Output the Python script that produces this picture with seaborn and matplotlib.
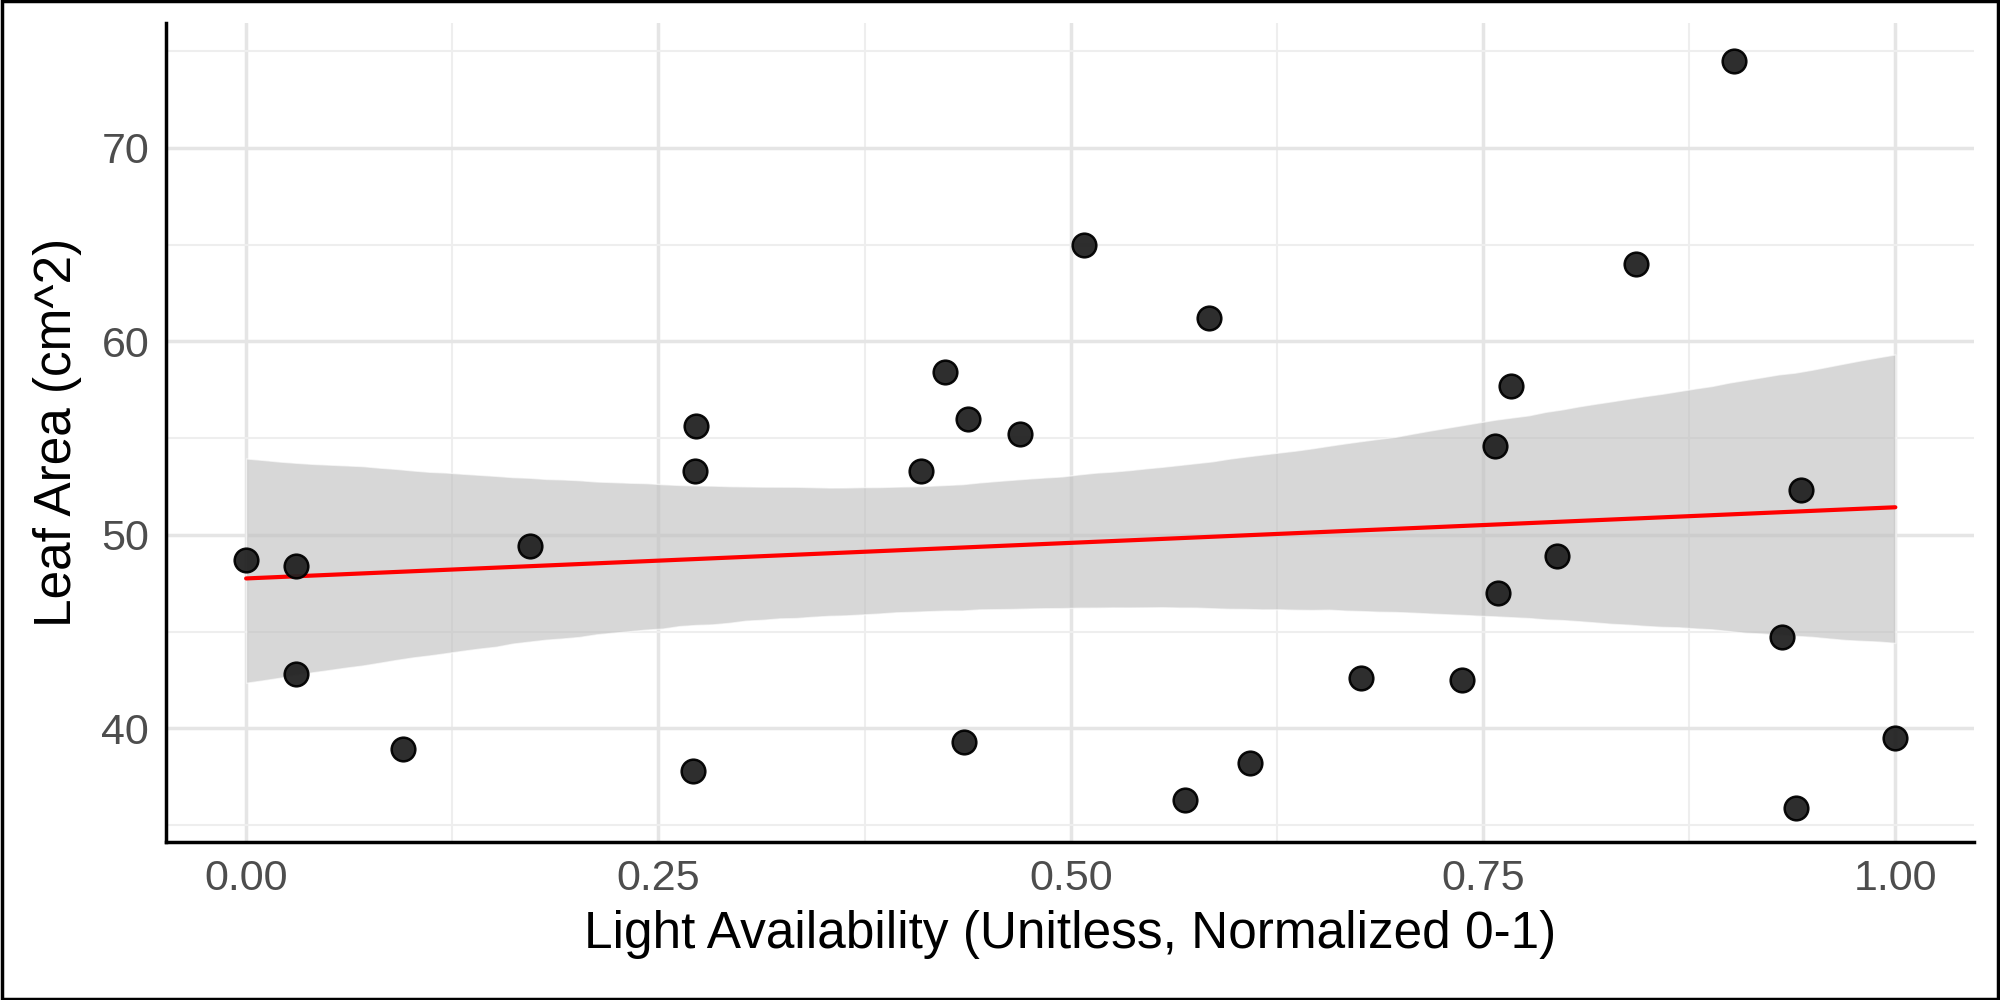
import matplotlib
matplotlib.use("Agg")
import matplotlib.pyplot as plt
import numpy as np
import pandas as pd
import seaborn as sns

light = [0.000, 0.030, 0.030, 0.095, 0.172, 0.271, 0.272, 0.273, 0.409, 0.424,
         0.435, 0.438, 0.469, 0.508, 0.569, 0.584, 0.609, 0.676, 0.737, 0.757,
         0.759, 0.767, 0.795, 0.843, 0.902, 0.931, 0.943, 0.940, 1.000]
leaf = [48.7, 48.4, 42.8, 38.95, 49.4, 37.8, 53.3, 55.6, 53.3, 58.4,
        39.3, 56.0, 55.2, 65.0, 36.3, 61.2, 38.2, 42.6, 42.5, 54.6,
        47.0, 57.7, 48.9, 64.0, 74.5, 44.7, 52.3, 35.9, 39.5]
df = pd.DataFrame({"light": light, "leaf": leaf})

sns.set_theme(style="white")
plt.rcParams['font.family'] = ['Liberation Sans', 'DejaVu Sans']

fig = plt.figure(figsize=(20, 10), dpi=100)
ax = fig.add_axes([130 / 1568, 1 - 660 / 784, (1548 - 130) / 1568, (660 - 18) / 784])

sns.regplot(data=df, x="light", y="leaf", ax=ax, ci=95, n_boot=4000, seed=3,
            scatter_kws=dict(s=290, color="#222222", edgecolor="black", linewidths=1.8, alpha=0.95, zorder=3),
            line_kws=dict(color="red", lw=3, zorder=2), color="#999999")
for c in ax.collections[1:]:
    c.set_facecolor("#bdbdbd")
    c.set_alpha(0.6)

ax.set_xlim(-0.0487, 1.048)
ax.set_ylim(34.13, 76.45)
ax.set_xticks([0, 0.25, 0.5, 0.75, 1.0])
ax.set_xticklabels(["0.00", "0.25", "0.50", "0.75", "1.00"])
ax.set_yticks([40, 50, 60, 70])
ax.set_xticks(np.arange(0.125, 1.0, 0.25), minor=True)
ax.set_yticks([35, 45, 55, 65, 75], minor=True)
ax.grid(True, which="major", color="#e5e5e5", lw=2.5)
ax.grid(True, which="minor", color="#eeeeee", lw=1.5)
ax.set_axisbelow(True)
for s in ["top", "right"]:
    ax.spines[s].set_visible(False)
for s in ["left", "bottom"]:
    ax.spines[s].set_color("black")
    ax.spines[s].set_linewidth(2.5)
ax.tick_params(labelsize=31, colors="#4d4d4d", length=0, pad=12)
ax.set_xlabel("Light Availability (Unitless, Normalized 0-1)", fontsize=37, color="black", labelpad=8)
ax.set_ylabel("Leaf Area (cm^2)", fontsize=37, color="black", labelpad=14)

fig.patches.append(plt.Rectangle((0.001, 0.001), 0.998, 0.998, transform=fig.transFigure,
                                 fill=False, edgecolor="black", lw=2.5))
fig.savefig("out.png", dpi=100, facecolor="white")
